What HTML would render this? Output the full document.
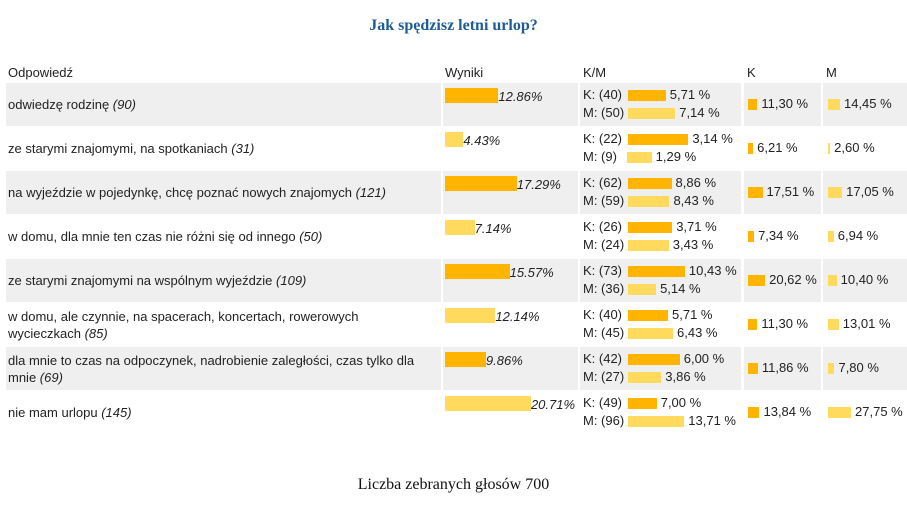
<!DOCTYPE html>
<html><head><meta charset="utf-8">
<style>
body{margin:0;width:907px;height:518px;background:#fff;position:relative;overflow:hidden;font-family:"Liberation Sans",Arial,sans-serif;font-size:13px;color:#222}
.a{position:absolute;white-space:nowrap}
#title{position:absolute;left:0;width:907px;top:17px;text-align:center;font-family:"Liberation Serif",serif;font-weight:bold;font-size:16px;color:#1d5c96}
#foot{position:absolute;left:0;width:907px;top:476px;text-align:center;font-family:"Liberation Serif",serif;font-size:16px;color:#111}
.cell{position:absolute;background:#efefef}
.bar{position:absolute}
i{font-style:italic}
</style></head><body>
<div id="title">Jak spędzisz letni urlop?</div>
<div class="a" style="left:8px;top:65px">Odpowiedź</div>
<div class="a" style="left:445px;top:65px">Wyniki</div>
<div class="a" style="left:583px;top:65px">K/M</div>
<div class="a" style="left:747px;top:65px">K</div>
<div class="a" style="left:826px;top:65px">M</div>
<div id="rows"></div>
<div id="foot">Liczba zebranych głosów 700</div>
<script>
const answers=["odwiedzę rodzinę","ze starymi znajomymi, na spotkaniach","na wyjeździe w pojedynkę, chcę poznać nowych znajomych","w domu, dla mnie ten czas nie różni się od innego","ze starymi znajomymi na wspólnym wyjeździe","w domu, ale czynnie, na spacerach, koncertach, rowerowych<br>wycieczkach","dla mnie to czas na odpoczynek, nadrobienie zaległości, czas tylko dla<br>mnie","nie mam urlopu"];
const counts=[90,31,121,50,109,85,69,145];
const percents=[12.86,4.43,17.29,7.14,15.57,12.14,9.86,20.71];
const kCounts=[40,22,62,26,73,40,42,49];
const mCounts=[50,9,59,24,36,45,27,96];
const kOfAll=["5,71","3,14","8,86","3,71","10,43","5,71","6,00","7,00"];
const mOfAll=["7,14","1,29","8,43","3,43","5,14","6,43","3,86","13,71"];
const kPct=[11.30,6.21,17.51,7.34,20.62,11.30,11.86,13.84];
const mPct=[14.45,2.60,17.05,6.94,10.40,13.01,7.80,27.75];
const OR="#ffb400",YE="#ffda5c";
const root=document.getElementById('rows');
function mk(cls,css,html){const d=document.createElement('div');d.className=cls;d.style.cssText=css;if(html!==undefined)d.innerHTML=html;root.appendChild(d);return d;}
const fmt=v=>v.toFixed(2).replace('.',',');
for(let i=0;i<answers.length;i++){
  const top=83+i*44, mid=top+21;
  if(i%2===0){
    [[6,435],[443,135],[580,161],[744,77],[823,84]].forEach(([x,w])=>{
      const c=mk('cell',`left:${x}px;top:${top}px;width:${w}px;height:43px`);
      
      
    });
  }
  const two=answers[i].includes('<br>');
  const t=mk('a',`left:8px;top:${two?mid-16:mid-8}px;line-height:17px`,answers[i]+' <i>('+counts[i]+')</i>');
  
  
  const col=i%2===0?OR:YE;
  const bw=percents[i]*4.15;
  const b=mk('bar',`left:445px;top:${top+5}px;width:${bw}px;height:15px;background:${col}`);
  
  
  const bl=mk('a',`left:${445+bw}px;top:${top+6}px;font-style:italic`,percents[i].toFixed(2)+'%');
  
  
  // K/M
  [[kCounts,kOfAll,OR,'K',top+4],[mCounts,mOfAll,YE,'M',top+22]].forEach(([cs,lab,c,n,y])=>{
    const l=mk('a',`left:583px;top:${y}px`,n+': ('+cs[i]+')');
    
    
    const w=cs[i]/counts[i]*85;
    const bx=n==='M'&&cs[i]<10?627:628;
    const bb=mk('bar',`left:${bx}px;top:${y+3}px;width:${w}px;height:11px;background:${c}`);
    
    
    const pl=mk('a',`left:${bx+w+4}px;top:${y}px`,lab[i]+' %');
    
    
  });
  [[kPct,OR,748],[mPct,YE,828]].forEach(([arr,c,x])=>{
    const w=Math.max(1,arr[i]*0.83);
    const bb=mk('bar',`left:${x}px;top:${mid-5}px;width:${w}px;height:11px;background:${c}`);
    
    
    const pl=mk('a',`left:${x+w+4}px;top:${mid-8}px`,fmt(arr[i])+' %');
    
    
  });
}
</script>
</body></html>
